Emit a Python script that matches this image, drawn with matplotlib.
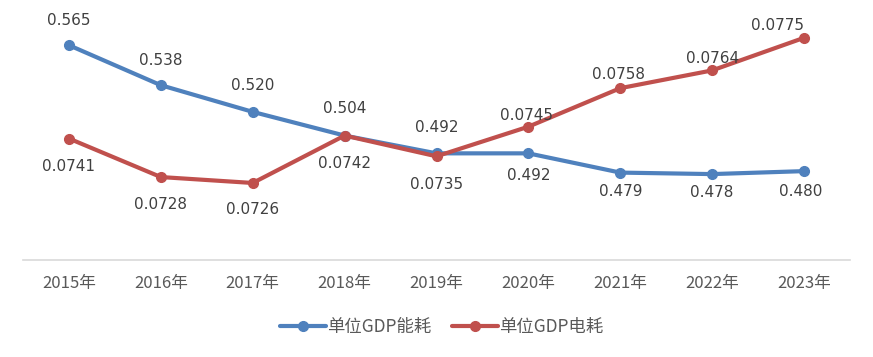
import matplotlib.pyplot as plt

years = ["2015年", "2016年", "2017年", "2018年", "2019年", "2020年", "2021年", "2022年", "2023年"]
energy = [0.565, 0.538, 0.520, 0.504, 0.492, 0.492, 0.479, 0.478, 0.480]
power = [0.0741, 0.0728, 0.0726, 0.0742, 0.0735, 0.0745, 0.0758, 0.0764, 0.0775]
energy_labels = ["0.565", "0.538", "0.520", "0.504", "0.492", "0.492", "0.479", "0.478", "0.480"]
power_labels = ["0.0741", "0.0728", "0.0726", "0.0742", "0.0735", "0.0745", "0.0758", "0.0764", "0.0775"]

# label offsets in pixels (dx, dy), up is positive
energy_off = [(0, 25), (0, 25), (0, 26), (0, 27), (0, 26), (0, -22), (0, -19), (0, -18), (-3, -20)]
power_off = [(0, -28), (0, -27), (0, -27), (0, -28), (0, -28), (-2, 11), (-2, 14), (0, 12), (-27, 12)]

blue = "#4f81bd"
red = "#c0504d"
cjk = ["Noto Sans CJK SC", "DejaVu Sans"]

fig = plt.figure(figsize=(8.73, 3.57), dpi=100)
ax = fig.add_axes([23 / 873, 97 / 357, 827 / 873, 237 / 357])
x = list(range(len(years)))

ax.plot(x, energy, color=blue, lw=3, marker="o", ms=7, solid_capstyle="round", label="单位GDP能耗")
ax.set_ylim(0.42, 0.58)
ax.set_xlim(-0.5, len(years) - 0.5)

ax2 = ax.twinx()
ax2.plot(x, power, color=red, lw=3, marker="o", ms=7, solid_capstyle="round", label="单位GDP电耗")
ax2.set_ylim(0.070, 0.078)

for a in (ax, ax2):
    for s in a.spines.values():
        s.set_visible(False)
    a.set_yticks([])
ax.spines["bottom"].set_visible(True)
ax.spines["bottom"].set_color("#d9d9d9")
ax.spines["bottom"].set_linewidth(1.2)
ax.set_xticks(x)
ax.set_xticklabels(years, family=cjk, fontsize=12, color="#595959")
ax.tick_params(axis="x", length=0, pad=11)
ax2.tick_params(axis="x", length=0)

for i in x:
    ax.annotate(energy_labels[i], (i, energy[i]), xytext=energy_off[i], textcoords="offset pixels",
                ha="center", va="center", fontsize=11, color="#404040")
    ax2.annotate(power_labels[i], (i, power[i]), xytext=power_off[i], textcoords="offset pixels",
                 ha="center", va="center", fontsize=11, color="#404040")

h1, l1 = ax.get_legend_handles_labels()
h2, l2 = ax2.get_legend_handles_labels()
fig.legend(h1 + h2, l1 + l2, loc="center", bbox_to_anchor=(442 / 873, 1 - 327 / 357), ncol=2,
           frameon=False, prop={"family": cjk, "size": 12.5}, labelcolor="#595959",
           handlelength=2.6, columnspacing=1.2, handletextpad=0.1)

fig.savefig("out.png", dpi=100, facecolor="white")
